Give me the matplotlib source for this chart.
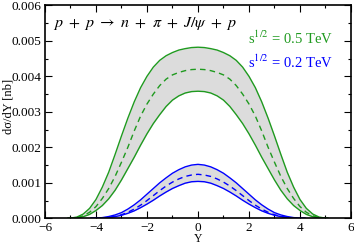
import numpy as np
import matplotlib
matplotlib.use("Agg")
import matplotlib.pyplot as plt
from matplotlib.ticker import MultipleLocator

plt.rcParams['font.family'] = ['Liberation Serif', 'DejaVu Serif']
plt.rcParams['mathtext.fontset'] = 'stix'

# half curves (Y >= 0), mirrored to negative Y, values in 1e-3 nb
y_green = [0.0, 0.25, 0.5, 0.75, 1.0, 1.25, 1.5, 1.75, 2.0, 2.25, 2.5, 2.75,
           3.0, 3.25, 3.5, 3.75, 4.0, 4.25, 4.5, 4.75, 5.0, 5.1]
green_up = [4.82, 4.81, 4.78, 4.74, 4.67, 4.58, 4.45, 4.26, 4.00, 3.68, 3.28, 2.82,
            2.32, 1.80, 1.30, 0.88, 0.53, 0.28, 0.12, 0.035, 0.005, 0.0]
green_mid = [4.20, 4.19, 4.16, 4.11, 4.04, 3.92, 3.74, 3.50, 3.22, 2.88, 2.46, 2.00,
             1.58, 1.18, 0.84, 0.56, 0.33, 0.17, 0.07, 0.02, 0.003, 0.0]
green_lo = [3.58, 3.57, 3.53, 3.45, 3.33, 3.15, 2.92, 2.67, 2.38, 2.06, 1.72, 1.40,
            1.08, 0.79, 0.55, 0.36, 0.22, 0.11, 0.045, 0.013, 0.002, 0.0]

y_blue = [0.0, 0.25, 0.5, 0.75, 1.0, 1.25, 1.5, 1.75, 2.0, 2.25, 2.5, 2.75,
          3.0, 3.25, 3.5, 3.75, 4.0, 4.2]
blue_up = [1.52, 1.50, 1.45, 1.37, 1.27, 1.14, 1.00, 0.84, 0.68, 0.52, 0.38, 0.26,
           0.16, 0.095, 0.05, 0.02, 0.005, 0.0]
blue_mid = [1.24, 1.22, 1.18, 1.11, 1.02, 0.91, 0.78, 0.64, 0.50, 0.37, 0.26, 0.17,
            0.10, 0.055, 0.027, 0.01, 0.002, 0.0]
blue_lo = [1.04, 1.03, 0.99, 0.92, 0.84, 0.74, 0.63, 0.51, 0.40, 0.30, 0.21, 0.14,
           0.085, 0.047, 0.023, 0.009, 0.002, 0.0]


def mirror(x, v):
    x = np.array(x)
    v = np.array(v) * 1e-3
    return np.concatenate([-x[::-1], x[1:]]), np.concatenate([v[::-1], v[1:]])


green = '#1f9a1f'
blue = '#0000ff'

fig = plt.figure(figsize=(3.54, 2.43), dpi=100)
ax = fig.add_axes([0.127, 0.1016, 0.8645, 0.8765])

for ys, up, mid, lo, c in [(y_green, green_up, green_mid, green_lo, green),
                           (y_blue, blue_up, blue_mid, blue_lo, blue)]:
    x, u = mirror(ys, up)
    _, m = mirror(ys, mid)
    _, l = mirror(ys, lo)
    ax.fill_between(x, l, u, color='#dcdcdc', lw=0)
    ax.plot(x, u, color=c, lw=1.0)
    ax.plot(x, l, color=c, lw=1.0)
    ax.plot(x, m, color=c, lw=1.0, dashes=(4, 3))

ax.set_xlim(-6, 6)
ax.set_ylim(0, 0.006)
ax.xaxis.set_major_locator(MultipleLocator(2))
ax.xaxis.set_minor_locator(MultipleLocator(1))
ax.yaxis.set_major_locator(MultipleLocator(0.001))
ax.yaxis.set_minor_locator(MultipleLocator(0.0005))
ax.yaxis.set_major_formatter(plt.FormatStrFormatter('%.3f'))
ax.tick_params(which='both', direction='in', top=True, right=True, labelsize=9.5, width=0.8)
ax.tick_params(which='major', length=5)
ax.tick_params(axis='y', which='major', pad=2.5)
ax.tick_params(axis='x', which='major', pad=3)
ax.tick_params(which='minor', length=2.5)
for s in ax.spines.values():
    s.set_linewidth(1.2)

ax.set_xlabel('Y', fontsize=8.5)
ax.xaxis.set_label_coords(0.5, -0.068)
fig.text(0.024, 0.56, 'dσ/dY [nb]', rotation=90, fontsize=9, ha='center', va='center')

ax.text(0.025, 0.955, r'$p\ +\ p\ \rightarrow\ n\ +\ \pi\ +\ J/\psi\ +\ p$', transform=ax.transAxes,
        fontsize=11.5, ha='left', va='top')
ax.text(0.941, 0.846, r's$^{1/2}$ = 0.5 TeV', transform=ax.transAxes, color=green,
        fontsize=10.5, ha='right', va='center')
ax.text(0.941, 0.734, r's$^{1/2}$ = 0.2 TeV', transform=ax.transAxes, color=blue,
        fontsize=10.5, ha='right', va='center')

fig.savefig('out.png', dpi=100)
